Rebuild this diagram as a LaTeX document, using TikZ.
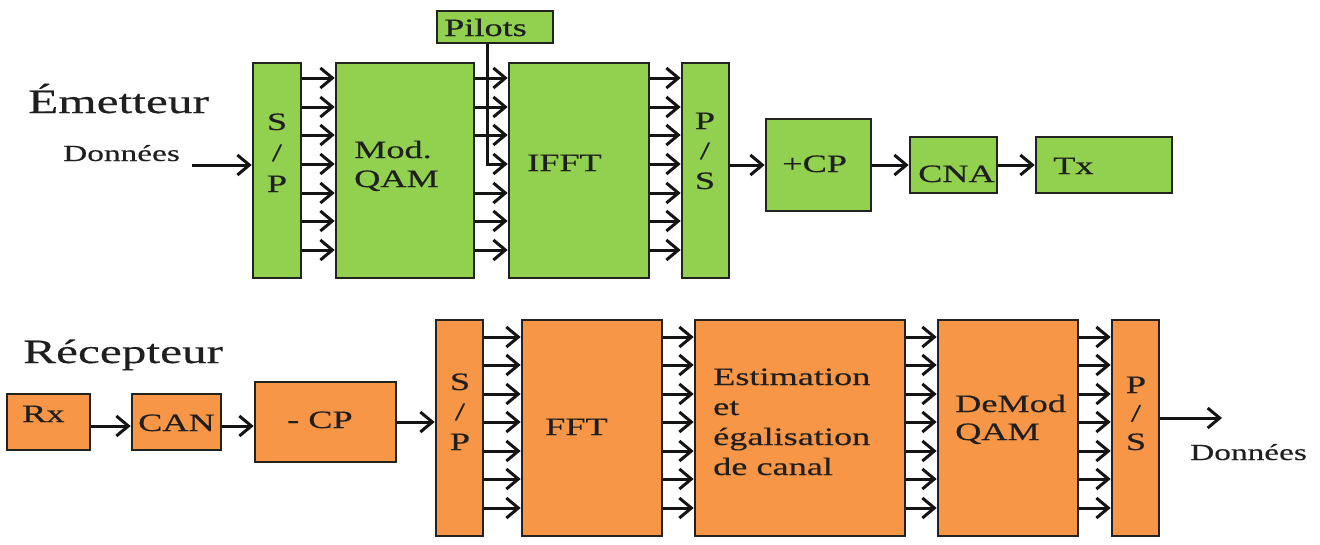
\documentclass[tikz,border=0pt]{standalone}
\usepackage{fontspec}
\setmainfont{Liberation Serif}[FakeStretch=1.45, FakeBold=0.4]
\usetikzlibrary{arrows.meta}
\definecolor{boxgreen}{RGB}{146,208,80}
\definecolor{boxorange}{RGB}{247,150,70}
\definecolor{edge}{RGB}{34,34,30}
\newcommand\leftlines[1]{\begin{tabular}[t]{@{}l@{}}#1\end{tabular}}
\newcommand\midlines[1]{\begin{tabular}[t]{@{}c@{}}#1\end{tabular}}
\tikzset{
  blk/.style={draw=edge, line width=2.6pt, rectangle, inner sep=0pt},
  gblk/.style={blk, fill=boxgreen},
  oblk/.style={blk, fill=boxorange},
  arr/.style={draw=black!92, line width=3pt, -{Straight Barb[length=12pt,width=20pt]}},
  lbl/.style={inner sep=0pt, text=black!88, font=\fontsize{25}{30}\selectfont, anchor=base west},
  clbl/.style={lbl, anchor=base},
  title/.style={inner sep=0pt, text=black!88, font=\fontsize{34}{40}\selectfont, anchor=base west},
  small/.style={inner sep=0pt, text=black!88, font=\fontsize{23}{28}\selectfont, anchor=base west},
}
\begin{document}
\begin{tikzpicture}[x=1pt, y=-1pt]
\useasboundingbox (0,0) rectangle (1320,544);

% ---------------- transmitter ----------------
\node[title] (ttx) at (28,113) {Émetteur};
\node[small] (din) at (63,161) {Données};

\node[gblk, minimum width=48pt, minimum height=215pt] (sp1) at (277,170.5) {};
\node[gblk, minimum width=138pt, minimum height=215pt] (qam) at (405,170.5) {};
\node[gblk, minimum width=140pt, minimum height=215pt] (ifft) at (579,170.5) {};
\node[gblk, minimum width=47pt, minimum height=215pt] (ps1) at (705.5,170.5) {};
\node[gblk, minimum width=116pt, minimum height=32pt] (pilots) at (495,27) {};
\node[gblk, minimum width=105pt, minimum height=92pt] (cpadd) at (818.5,165) {};
\node[gblk, minimum width=87pt, minimum height=56pt] (cna) at (953.5,165) {};
\node[gblk, minimum width=136pt, minimum height=56pt] (tx) at (1104,165) {};

\node[clbl] (sp1t) at (277,130) {\fontsize{25}{31}\selectfont\midlines{S\\/\\P}};
\node[lbl] (qamt) at (354,158) {\fontsize{25}{29}\selectfont\leftlines{Mod.\\QAM}};
\node[lbl] (ifftt) at (527,171) {IFFT};
\node[clbl] (ps1t) at (705,129) {\midlines{P\\/\\S}};
\node[lbl] (pilotst) at (444,36) {Pilots};
\node[lbl] (cpaddt) at (782,172) {+CP};
\node[lbl] (cnat) at (918,182) {CNA};
\node[lbl] (txt) at (1053,174) {Tx};

% parallel branches of the transmitter
\foreach \i/\y in {1/78,2/107,3/135,4/164,5/193,6/221,7/250}
  \coordinate (e\i) at (0,\y);
\foreach \i in {1,...,7} {
  \draw[arr] (sp1.east |- e\i) -- (qam.west |- e\i);
  \draw[arr] (ifft.east |- e\i) -- (ps1.west |- e\i);
}
\foreach \i in {1,2,3,5,6,7}
  \draw[arr] (qam.east |- e\i) -- (ifft.west |- e\i);
\draw[arr] ([xshift=-8pt]pilots.south) |- (ifft.west |- e4);

\coordinate (din0) at (192,165);
\draw[arr] (din0) -- (sp1.west |- din0);
\draw[arr] (ps1.east |- cpadd.west) -- (cpadd.west);
\draw[arr] (cpadd.east) -- (cna.west);
\draw[arr] (cna.east) -- (tx.west);

% ---------------- receiver ----------------
\node[title] (trx) at (23,363) {Récepteur};

\node[oblk, minimum width=83pt, minimum height=56pt] (rx) at (48.5,422) {};
\node[oblk, minimum width=89pt, minimum height=56pt] (can) at (176.5,422) {};
\node[oblk, minimum width=141pt, minimum height=80pt] (cprem) at (325.5,422) {};
\node[oblk, minimum width=47pt, minimum height=216pt] (sp2) at (459.5,428) {};
\node[oblk, minimum width=140pt, minimum height=216pt] (fft) at (592,428) {};
\node[oblk, minimum width=210pt, minimum height=216pt] (est) at (800,428) {};
\node[oblk, minimum width=140pt, minimum height=216pt] (demod) at (1008,428) {};
\node[oblk, minimum width=47pt, minimum height=216pt] (ps2) at (1135.5,428) {};

\node[lbl] (rxt) at (22,422) {Rx};
\node[lbl] (cant) at (138,431) {CAN};
\node[lbl] (cpremt) at (287,428) {- CP};
\node[clbl] (sp2t) at (460,390) {\midlines{S\\/\\P}};
\node[lbl] (fftt) at (545,435) {FFT};
\node[lbl] (estt) at (713,385) {\leftlines{Estimation\\et\\égalisation\\de canal}};
\node[lbl] (demodt) at (955,412) {\fontsize{25}{28}\selectfont\leftlines{DeMod\\QAM}};
\node[clbl] (ps2t) at (1136,393) {\fontsize{25}{28.5}\selectfont\midlines{P\\/\\S}};
\node[small] (dout) at (1190,460) {Données};

% parallel branches of the receiver
\foreach \i/\y in {1/337,2/365,3/394,4/422,5/451,6/479,7/508}
  \coordinate (q\i) at (0,\y);
\foreach \i in {1,...,7} {
  \draw[arr] (sp2.east |- q\i) -- (fft.west |- q\i);
  \draw[arr] (fft.east |- q\i) -- (est.west |- q\i);
  \draw[arr] (est.east |- q\i) -- (demod.west |- q\i);
  \draw[arr] (demod.east |- q\i) -- (ps2.west |- q\i);
}

\draw[arr] ([yshift=-4pt]rx.east) -- ([yshift=-4pt]can.west);
\draw[arr] ([yshift=-4pt]can.east) -- ([yshift=-4pt]cprem.west);
\draw[arr] (cprem.east) -- (sp2.west |- cprem.east);
\coordinate (dout0) at (1222,418);
\draw[arr] (ps2.east |- dout0) -- (dout0);
\end{tikzpicture}
\end{document}
